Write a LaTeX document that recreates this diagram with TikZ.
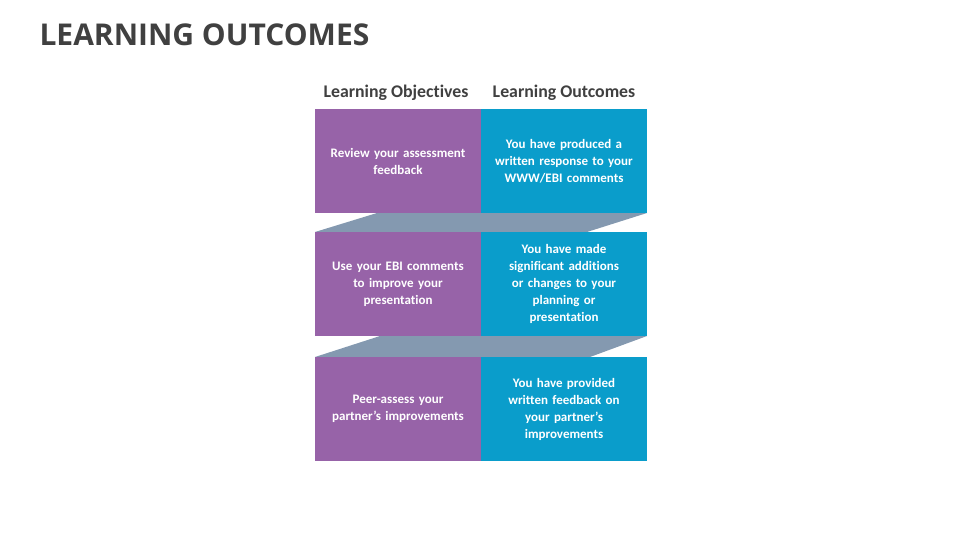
\documentclass[tikz,border=0pt]{standalone}
\usepackage{fontspec}
\setmainfont[Ligatures={NoCommon,NoRare,NoContextual}]{Carlito}
\newfontfamily\titlefont{Open Sans}
\definecolor{pur}{HTML}{9763A8}
\definecolor{blu}{HTML}{0A9DCB}
\definecolor{gry}{HTML}{8499B0}
\definecolor{ttl}{HTML}{404040}
\begin{document}
\begin{tikzpicture}[x=1pt,y=-1pt,
  cell/.style={minimum width=166pt,minimum height=104pt,inner sep=0pt,text=white,font=\fontsize{13}{17}\selectfont\bfseries,align=center,text width=150pt},
  hdr/.style={font=\fontsize{17.8}{20}\selectfont\bfseries,text=ttl}]
\useasboundingbox (0,0) rectangle (960,540);
\node[anchor=west,font=\titlefont\fontsize{30}{34}\selectfont\bfseries,text=ttl] (title) at (36,35) {LEARNING OUTCOMES};
\fill[gry] (377,213) -- (647,213) -- (587,232) -- (315,232) -- cycle;
\fill[gry] (380,336) -- (647,336) -- (590,357) -- (315,357) -- cycle;
\node[hdr] (h1) at (396,93) {Learning Objectives};
\node[hdr] (h2) at (564,93) {Learning Outcomes};
\node[cell,fill=pur] (a1) at (398,161) {Review your assessment\\feedback};
\node[cell,fill=blu] (b1) at (564,161) {You have produced a\\written response to your\\WWW/EBI comments};
\node[cell,fill=pur] (a2) at (398,284) {Use your EBI comments\\to improve your\\presentation};
\node[cell,fill=blu] (b2) at (564,284) {You have made\\significant additions\\or changes to your\\planning or\\presentation};
\node[cell,fill=pur] (a3) at (398,409) {Peer-assess your\\partner’s improvements};
\node[cell,fill=blu] (b3) at (564,409) {You have provided\\written feedback on\\your partner’s\\improvements};
\end{tikzpicture}
\end{document}
